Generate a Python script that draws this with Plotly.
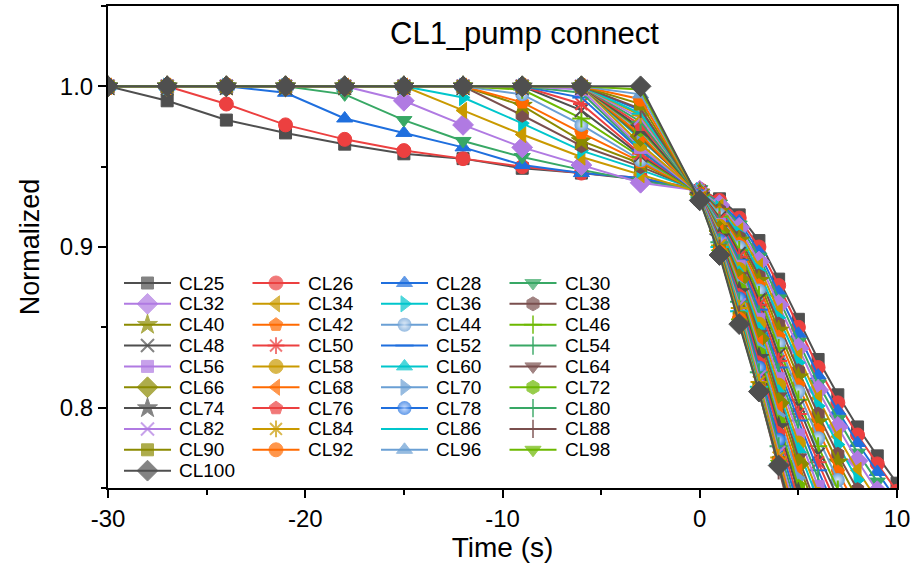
import plotly.graph_objects as go

# ---------------- data ----------------
time_s = [-30, -27, -24, -21, -18, -15, -12, -9, -6, -3, 0, 1, 2, 3, 4, 5, 6, 7, 8, 9, 10]

CL25 = [1.000, 0.991, 0.979, 0.971, 0.964, 0.958, 0.955, 0.949, 0.946, 0.942, 0.935, 0.930, 0.920, 0.904, 0.880, 0.855, 0.830, 0.808, 0.788, 0.770, 0.753]
CL26 = [1.000, 1.000, 0.989, 0.976, 0.967, 0.960, 0.955, 0.950, 0.946, 0.943, 0.936, 0.929, 0.918, 0.900, 0.876, 0.850, 0.825, 0.803, 0.783, 0.765, 0.748]
CL28 = [1.000, 1.000, 1.000, 0.996, 0.980, 0.971, 0.962, 0.951, 0.946, 0.943, 0.935, 0.928, 0.916, 0.897, 0.872, 0.846, 0.820, 0.798, 0.778, 0.760, 0.742]
CL30 = [1.000, 1.000, 1.000, 1.000, 0.995, 0.979, 0.966, 0.956, 0.948, 0.941, 0.936, 0.927, 0.914, 0.894, 0.868, 0.841, 0.815, 0.793, 0.772, 0.754, 0.736]
CL32 = [1.000, 1.000, 1.000, 1.000, 1.000, 0.991, 0.976, 0.962, 0.951, 0.940, 0.935, 0.926, 0.912, 0.891, 0.864, 0.837, 0.811, 0.788, 0.767, 0.748, 0.730]
CL34 = [1.000, 1.000, 1.000, 1.000, 1.000, 1.000, 0.985, 0.970, 0.956, 0.945, 0.934, 0.925, 0.910, 0.888, 0.860, 0.832, 0.806, 0.782, 0.761, 0.742, 0.724]
CL36 = [1.000, 1.000, 1.000, 1.000, 1.000, 1.000, 0.993, 0.977, 0.960, 0.948, 0.935, 0.924, 0.908, 0.885, 0.856, 0.828, 0.801, 0.777, 0.755, 0.736, 0.718]
CL38 = [1.000, 1.000, 1.000, 1.000, 1.000, 1.000, 1.000, 0.982, 0.963, 0.950, 0.935, 0.923, 0.906, 0.882, 0.852, 0.823, 0.796, 0.771, 0.749, 0.730, 0.712]
CL40 = [1.000, 1.000, 1.000, 1.000, 1.000, 1.000, 1.000, 0.988, 0.966, 0.952, 0.934, 0.922, 0.904, 0.879, 0.848, 0.819, 0.791, 0.766, 0.743, 0.724, 0.706]
CL42 = [1.000, 1.000, 1.000, 1.000, 1.000, 1.000, 1.000, 0.990, 0.971, 0.953, 0.934, 0.921, 0.902, 0.876, 0.844, 0.814, 0.786, 0.760, 0.737, 0.718, 0.700]
CL44 = [1.000, 1.000, 1.000, 1.000, 1.000, 1.000, 1.000, 0.995, 0.976, 0.954, 0.935, 0.920, 0.900, 0.873, 0.840, 0.810, 0.781, 0.755, 0.732, 0.712, 0.694]
CL46 = [1.000, 1.000, 1.000, 1.000, 1.000, 1.000, 1.000, 0.998, 0.980, 0.956, 0.933, 0.919, 0.898, 0.870, 0.837, 0.805, 0.776, 0.749, 0.726, 0.706, 0.688]
CL48 = [1.000, 1.000, 1.000, 1.000, 1.000, 1.000, 1.000, 1.000, 0.985, 0.957, 0.934, 0.918, 0.896, 0.867, 0.833, 0.801, 0.771, 0.744, 0.720, 0.700, 0.682]
CL50 = [1.000, 1.000, 1.000, 1.000, 1.000, 1.000, 1.000, 1.000, 0.989, 0.958, 0.934, 0.917, 0.894, 0.864, 0.829, 0.796, 0.766, 0.738, 0.714, 0.694, 0.676]
CL52 = [1.000, 1.000, 1.000, 1.000, 1.000, 1.000, 1.000, 1.000, 0.993, 0.960, 0.933, 0.916, 0.892, 0.861, 0.825, 0.792, 0.761, 0.733, 0.709, 0.688, 0.670]
CL54 = [1.000, 1.000, 1.000, 1.000, 1.000, 1.000, 1.000, 1.000, 0.996, 0.961, 0.934, 0.915, 0.890, 0.858, 0.822, 0.787, 0.756, 0.727, 0.703, 0.682, 0.664]
CL56 = [1.000, 1.000, 1.000, 1.000, 1.000, 1.000, 1.000, 1.000, 0.998, 0.962, 0.933, 0.914, 0.888, 0.855, 0.818, 0.783, 0.751, 0.722, 0.697, 0.676, 0.658]
CL58 = [1.000, 1.000, 1.000, 1.000, 1.000, 1.000, 1.000, 1.000, 1.000, 0.964, 0.933, 0.913, 0.886, 0.852, 0.814, 0.778, 0.746, 0.716, 0.691, 0.670, 0.652]
CL60 = [1.000, 1.000, 1.000, 1.000, 1.000, 1.000, 1.000, 1.000, 1.000, 0.967, 0.934, 0.912, 0.884, 0.849, 0.810, 0.774, 0.741, 0.711, 0.686, 0.664, 0.646]
CL64 = [1.000, 1.000, 1.000, 1.000, 1.000, 1.000, 1.000, 1.000, 1.000, 0.968, 0.933, 0.911, 0.882, 0.846, 0.807, 0.769, 0.736, 0.705, 0.680, 0.658, 0.640]
CL66 = [1.000, 1.000, 1.000, 1.000, 1.000, 1.000, 1.000, 1.000, 1.000, 0.969, 0.933, 0.910, 0.880, 0.843, 0.803, 0.765, 0.731, 0.700, 0.674, 0.652, 0.634]
CL68 = [1.000, 1.000, 1.000, 1.000, 1.000, 1.000, 1.000, 1.000, 1.000, 0.970, 0.932, 0.909, 0.878, 0.840, 0.799, 0.760, 0.726, 0.694, 0.668, 0.646, 0.628]
CL70 = [1.000, 1.000, 1.000, 1.000, 1.000, 1.000, 1.000, 1.000, 1.000, 0.972, 0.933, 0.908, 0.876, 0.837, 0.795, 0.756, 0.721, 0.689, 0.662, 0.640, 0.622]
CL72 = [1.000, 1.000, 1.000, 1.000, 1.000, 1.000, 1.000, 1.000, 1.000, 0.973, 0.932, 0.907, 0.874, 0.834, 0.791, 0.751, 0.716, 0.683, 0.656, 0.634, 0.616]
CL74 = [1.000, 1.000, 1.000, 1.000, 1.000, 1.000, 1.000, 1.000, 1.000, 0.974, 0.932, 0.906, 0.872, 0.831, 0.788, 0.747, 0.711, 0.678, 0.651, 0.628, 0.610]
CL76 = [1.000, 1.000, 1.000, 1.000, 1.000, 1.000, 1.000, 1.000, 1.000, 0.976, 0.933, 0.905, 0.870, 0.828, 0.784, 0.742, 0.706, 0.672, 0.645, 0.622, 0.604]
CL78 = [1.000, 1.000, 1.000, 1.000, 1.000, 1.000, 1.000, 1.000, 1.000, 0.985, 0.932, 0.904, 0.868, 0.825, 0.780, 0.738, 0.701, 0.667, 0.639, 0.616, 0.598]
CL80 = [1.000, 1.000, 1.000, 1.000, 1.000, 1.000, 1.000, 1.000, 1.000, 0.978, 0.931, 0.903, 0.866, 0.822, 0.776, 0.733, 0.696, 0.661, 0.633, 0.610, 0.592]
CL82 = [1.000, 1.000, 1.000, 1.000, 1.000, 1.000, 1.000, 1.000, 1.000, 0.980, 0.932, 0.902, 0.864, 0.819, 0.772, 0.729, 0.691, 0.656, 0.627, 0.604, 0.586]
CL84 = [1.000, 1.000, 1.000, 1.000, 1.000, 1.000, 1.000, 1.000, 1.000, 0.982, 0.931, 0.901, 0.862, 0.816, 0.769, 0.724, 0.686, 0.650, 0.621, 0.598, 0.580]
CL86 = [1.000, 1.000, 1.000, 1.000, 1.000, 1.000, 1.000, 1.000, 1.000, 0.983, 0.931, 0.900, 0.860, 0.813, 0.765, 0.720, 0.681, 0.645, 0.616, 0.592, 0.574]
CL88 = [1.000, 1.000, 1.000, 1.000, 1.000, 1.000, 1.000, 1.000, 1.000, 0.986, 0.930, 0.899, 0.858, 0.810, 0.761, 0.715, 0.676, 0.639, 0.610, 0.586, 0.568]
CL90 = [1.000, 1.000, 1.000, 1.000, 1.000, 1.000, 1.000, 1.000, 1.000, 0.989, 0.930, 0.898, 0.856, 0.812, 0.766, 0.720, 0.678, 0.640, 0.605, 0.580, 0.562]
CL92 = [1.000, 1.000, 1.000, 1.000, 1.000, 1.000, 1.000, 1.000, 1.000, 0.992, 0.930, 0.897, 0.855, 0.811, 0.766, 0.721, 0.678, 0.638, 0.602, 0.576, 0.556]
CL96 = [1.000, 1.000, 1.000, 1.000, 1.000, 1.000, 1.000, 1.000, 1.000, 0.995, 0.930, 0.896, 0.854, 0.811, 0.765, 0.720, 0.677, 0.636, 0.600, 0.572, 0.552]
CL98 = [1.000, 1.000, 1.000, 1.000, 1.000, 1.000, 1.000, 1.000, 1.000, 0.998, 0.929, 0.896, 0.853, 0.810, 0.765, 0.720, 0.676, 0.634, 0.598, 0.568, 0.548]
CL100 = [1.000, 1.000, 1.000, 1.000, 1.000, 1.000, 1.000, 1.000, 1.000, 1.000, 0.929, 0.895, 0.852, 0.810, 0.764, 0.719, 0.675, 0.632, 0.595, 0.565, 0.545]

series_names = ["CL25", "CL26", "CL28", "CL30", "CL32", "CL34", "CL36", "CL38", "CL40",
                "CL42", "CL44", "CL46", "CL48", "CL50", "CL52", "CL54", "CL56", "CL58",
                "CL60", "CL64", "CL66", "CL68", "CL70", "CL72", "CL74", "CL76", "CL78",
                "CL80", "CL82", "CL84", "CL86", "CL88", "CL90", "CL92", "CL96", "CL98", "CL100"]
series_values = [CL25, CL26, CL28, CL30, CL32, CL34, CL36, CL38, CL40,
                 CL42, CL44, CL46, CL48, CL50, CL52, CL54, CL56, CL58,
                 CL60, CL64, CL66, CL68, CL70, CL72, CL74, CL76, CL78,
                 CL80, CL82, CL84, CL86, CL88, CL90, CL92, CL96, CL98, CL100]

x_ticks = [-30, -20, -10, 0, 10]
x_tick_text = ["-30", "-20", "-10", "0", "10"]
y_ticks = [0.8, 0.9, 1.0]
y_tick_text = ["0.8", "0.9", "1.0"]

# ---------------- styles ----------------
palette = ["#4f4f4f", "#ec4040", "#1f6fde", "#38a865", "#b07ae2", "#c99a00",
           "#00c6cc", "#7a4f4e", "#8b8a00", "#ff6a00", "#6a9fd4", "#6cb800"]
gradient_tint = {"#6a9fd4": "#dbe9f8", "#1f6fde": "#b9d3ff"}
symbols = ["square", "circle", "triangle-up", "triangle-down", "diamond", "triangle-left",
           "triangle-right", "hexagon", "star", "pentagon", "sphere", "cross-thin",
           "x-thin", "asterisk", "line-ew", "line-ns"]
sym_size = {"square": 12, "circle": 14, "triangle-up": 14, "triangle-down": 14,
            "diamond": 16, "triangle-left": 14, "triangle-right": 14, "hexagon": 14,
            "star": 15, "pentagon": 14, "sphere": 14, "cross-thin": 13, "x-thin": 13,
            "asterisk": 14, "line-ew": 13, "line-ns": 13}
thin = {"cross-thin", "x-thin", "asterisk", "line-ew", "line-ns"}

FONT = "Arial, Liberation Sans, sans-serif"


def marker_style(sym, color, size):
    m = dict(color=color, size=size)
    if sym == "sphere":
        m["symbol"] = "circle"
        m["gradient"] = dict(type="radial", color=gradient_tint.get(color, "#ffffff"))
        m["line"] = dict(width=0)
    elif sym in thin:
        m["symbol"] = sym
        m["line"] = dict(width=2, color=color)
    else:
        m["symbol"] = sym
        m["line"] = dict(width=1, color=color)
    return m


fig = go.Figure()

for i, (name, vals) in enumerate(zip(series_names, series_values)):
    col = palette[i % len(palette)]
    sym = symbols[i % len(symbols)]
    fig.add_trace(go.Scatter(
        x=time_s, y=vals, name=name, mode="lines+markers",
        line=dict(color=col, width=2),
        marker=marker_style(sym, col, sym_size[sym]),
        showlegend=False, xaxis="x", yaxis="y",
    ))

# ---------------- custom legend (4 columns, row-major) on a pixel-unit overlay axis ----------------
n_cols = 4
col_x0, col_step = 124, 128.5
row_y0, row_step = 283, 20.85
line_len = 47
annotations = []
for i, (name, vals) in enumerate(zip(series_names, series_values)):
    col = palette[i % len(palette)]
    sym = symbols[i % len(symbols)]
    r, c = divmod(i, n_cols)
    x0 = col_x0 + c * col_step
    y0 = row_y0 + r * row_step
    m = marker_style(sym, col, [0, sym_size[sym], 0])
    fig.add_trace(go.Scatter(
        x=[x0, x0 + line_len / 2, x0 + line_len], y=[y0, y0, y0],
        mode="lines+markers", line=dict(color=col, width=2), marker=m,
        showlegend=False, hoverinfo="skip", xaxis="x2", yaxis="y2",
    ))
    annotations.append(dict(
        x=x0 + line_len + 6, y=y0, xref="x2", yref="y2", text=name, showarrow=False,
        xanchor="left", yanchor="middle", font=dict(family=FONT, size=19, color="black"),
    ))

annotations.append(dict(
    x=524, y=33, xref="x2", yref="y2", text="CL1_pump connect", showarrow=False,
    xanchor="center", yanchor="middle", font=dict(family=FONT, size=31, color="black"),
))

fig.update_layout(
    template="none",
    width=912, height=563,
    margin=dict(l=108, r=15, t=6, b=75, autoexpand=False),
    paper_bgcolor="white", plot_bgcolor="white",
    font=dict(family=FONT, color="black"),
    annotations=annotations,
    xaxis=dict(
        range=[-30, 10], tickvals=x_ticks, ticktext=x_tick_text, ticks="outside",
        ticklen=8, tickwidth=2, tickcolor="black", showline=True, linewidth=2,
        linecolor="black", mirror=True, showgrid=False, zeroline=False, automargin=False,
        tickfont=dict(family=FONT, size=24),
        minor=dict(dtick=5, tick0=0, ticks="outside", ticklen=5, tickwidth=2, tickcolor="black",
                   showgrid=False),
        title=dict(text="Time (s)", font=dict(family=FONT, size=28), standoff=8),
    ),
    yaxis=dict(
        range=[0.75, 1.05], tickvals=y_ticks, ticktext=y_tick_text, ticks="outside",
        ticklen=8, tickwidth=2, tickcolor="black", showline=True, linewidth=2,
        linecolor="black", mirror=True, showgrid=False, zeroline=False, automargin=False,
        tickfont=dict(family=FONT, size=24),
        minor=dict(dtick=0.05, tick0=0.75, ticks="outside", ticklen=5, tickwidth=2,
                   tickcolor="black", showgrid=False),
        title=dict(text="Normalized", font=dict(family=FONT, size=27), standoff=12),
    ),
    xaxis2=dict(overlaying="x", anchor="y2", range=[108, 897], visible=False, fixedrange=True),
    yaxis2=dict(overlaying="y", anchor="x2", range=[488, 6], visible=False, fixedrange=True),
)

fig.write_html("out.html",
               config={"displayModeBar": False},
               post_script="document.body.style.margin='0';document.body.style.overflow='hidden';")
